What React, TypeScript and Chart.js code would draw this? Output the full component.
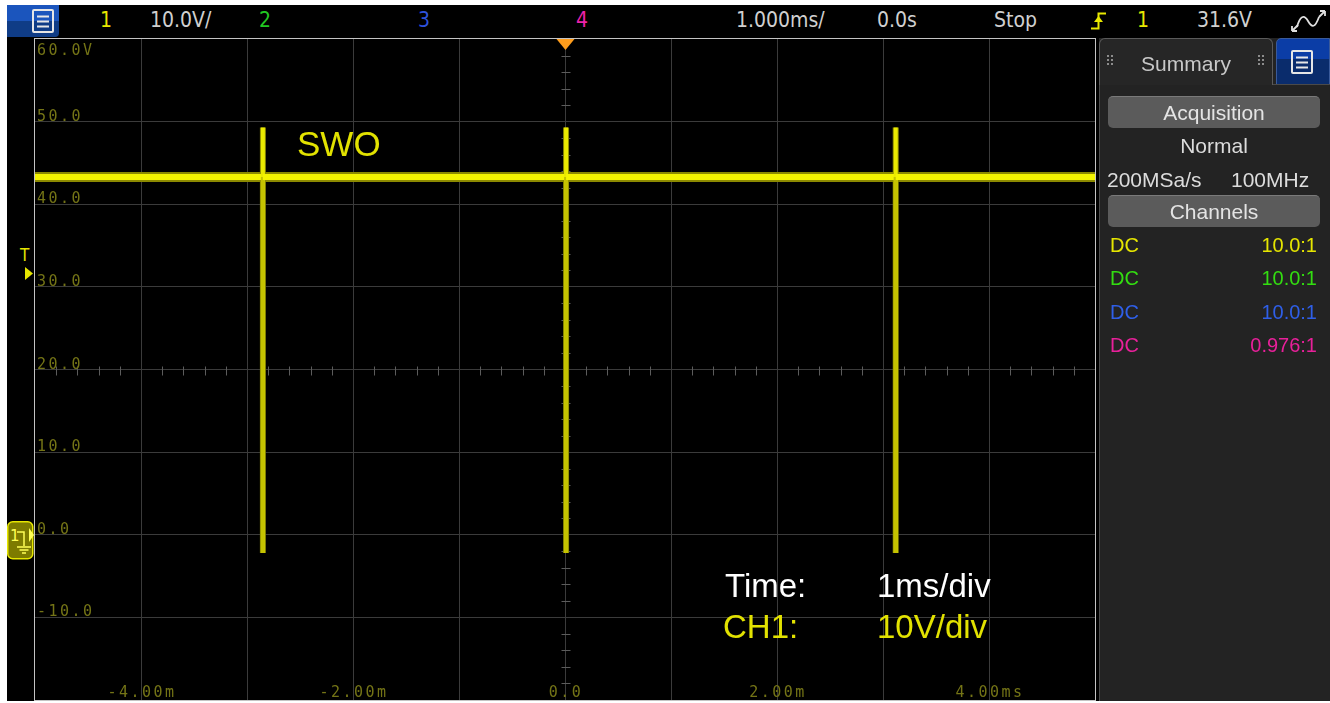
import React, { useEffect, useRef } from 'react';
import { Chart, registerables } from 'chart.js';

Chart.register(...registerables);

// ---------------- data ----------------
const timeRange = [-5, 5]; // ms, 1 ms/div
const voltRange = [-20, 60]; // V, 10 V/div
const timeLabelValues = [-4, -2, 0, 2, 4];
const timeLabels = ['-4.00m', '-2.00m', '0.0', '2.00m', '4.00ms'];
const voltLabelValues = [60, 50, 40, 30, 20, 10, 0, -10];
const voltLabels = ['60.0V', '50.0', '40.0', '30.0', '20.0', '10.0', '0.0', '-10.0'];
// SWO trace (CH1): idle high with three short glitches
const traceTimes = [-5, -2.85, -2.85, -2.85, -2.85, 0.01, 0.01, 0.01, 0.01, 3.12, 3.12, 3.12, 3.12, 5];
const traceVolts = [43.3, 43.3, 49.3, -2.2, 43.3, 43.3, 49.3, -2.2, 43.3, 43.3, 49.3, -2.2, 43.3, 43.3];
const channelCouplings = ['DC', 'DC', 'DC', 'DC'];
const probeRatios = ['10.0:1', '10.0:1', '10.0:1', '0.976:1'];
const channelColors = ['#e6e600', '#33dd11', '#2f5fe8', '#e8209a'];

const MINOR_T = 0.2;
const MINOR_V = 2;

const SANS = '"Liberation Sans", Arial, sans-serif';
const COND = '"DejaVu Sans Condensed", "DejaVu Sans", sans-serif';

const isVertical = (c: any) => c.p0.parsed.x === c.p1.parsed.x;

const scopePlugin = {
  id: 'scope',
  beforeDatasetsDraw(chart: any) {
    const { ctx, chartArea: a, scales } = chart;
    const x = scales.x;
    const y = scales.y;
    ctx.save();
    // minor ticks on centre lines
    ctx.strokeStyle = '#5c5c5c';
    ctx.lineWidth = 1;
    ctx.beginPath();
    const cx = Math.round(x.getPixelForValue(0)) + 0.5;
    const cy = Math.round(y.getPixelForValue(20)) + 0.5;
    for (let i = Math.ceil(voltRange[0] / MINOR_V); i <= voltRange[1] / MINOR_V; i++) {
      const v = i * MINOR_V;
      if (v % 10 === 0) continue;
      const py = Math.round(y.getPixelForValue(v)) + 0.5;
      ctx.moveTo(cx - 4, py);
      ctx.lineTo(cx + 5, py);
    }
    for (let i = Math.ceil(timeRange[0] / MINOR_T); i <= timeRange[1] / MINOR_T; i++) {
      if (i % 5 === 0) continue;
      const px = Math.round(x.getPixelForValue(i * MINOR_T)) + 0.5;
      ctx.moveTo(px, cy - 4);
      ctx.lineTo(px, cy + 5);
    }
    ctx.stroke();

    // axis labels (inside the graticule)
    ctx.font = '15px "DejaVu Sans Mono", monospace';
    (ctx as any).letterSpacing = '2.5px';
    ctx.fillStyle = '#747416';
    ctx.textAlign = 'left';
    ctx.textBaseline = 'alphabetic';
    voltLabelValues.forEach((v, i) => {
      const py = y.getPixelForValue(v);
      const base = v === voltRange[1] ? py + 16 : py - 1;
      ctx.fillText(voltLabels[i], a.left + 2, base);
    });
    ctx.textAlign = 'center';
    timeLabelValues.forEach((v, i) => {
      ctx.fillText(timeLabels[i], x.getPixelForValue(v) + 1, a.bottom - 3);
    });
    (ctx as any).letterSpacing = '0px';
    ctx.restore();
  },
  afterDatasetsDraw(chart: any) {
    const { ctx, chartArea: a, scales } = chart;
    const x = scales.x;
    ctx.save();
    // frame
    ctx.strokeStyle = '#c4c4c4';
    ctx.lineWidth = 1;
    ctx.strokeRect(a.left - 0.5, a.top - 0.5, a.right - a.left + 1, a.bottom - a.top + 1);
    // trigger position marker
    const cx = x.getPixelForValue(0) + 0.5;
    ctx.fillStyle = '#ff9d1c';
    ctx.beginPath();
    ctx.moveTo(cx - 9, a.top);
    ctx.lineTo(cx + 9, a.top);
    ctx.lineTo(cx, a.top + 11);
    ctx.closePath();
    ctx.fill();
    // annotations (canvas origin is page (34,38))
    ctx.textAlign = 'left';
    ctx.textBaseline = 'alphabetic';
    ctx.font = `35px ${SANS}`;
    ctx.fillStyle = '#e2e200';
    ctx.fillText('SWO', 263, 118);
    ctx.font = `33px ${SANS}`;
    ctx.fillStyle = '#ffffff';
    ctx.fillText('Time:', 691, 559);
    ctx.fillText('1ms/div', 843, 559);
    ctx.fillStyle = '#e2e200';
    ctx.fillText('CH1:', 689, 600);
    ctx.fillText('10V/div', 843, 600);
    ctx.restore();
  },
};

function Txt(props: {
  x: number; base: number; size: number; color: string; text: string;
  align?: 'left' | 'right' | 'center'; family?: string;
}) {
  const { x, base, size, color, text, align = 'left', family = SANS } = props;
  const top = base - 0.846 * size;
  const style: any = {
    position: 'absolute', top, fontSize: size, lineHeight: `${size}px`, color,
    fontFamily: family, whiteSpace: 'nowrap',
  };
  if (family === COND) style.fontStretch = 'condensed';
  if (align === 'left') style.left = x;
  else if (align === 'right') style.right = 1330 - x;
  else { style.left = x - 200; style.width = 400; style.textAlign = 'center'; }
  return <div style={style}>{text}</div>;
}

function MenuIcon({ left, top }: { left: number; top: number }) {
  return (
    <svg style={{ position: 'absolute', left, top }} width={22} height={24}>
      <rect x={1} y={1} width={20} height={22} fill="none" stroke="#e6e6e6" strokeWidth={2} rx={1} />
      <line x1={5} x2={17} y1={7.5} y2={7.5} stroke="#e6e6e6" strokeWidth={2} />
      <line x1={5} x2={17} y1={12.5} y2={12.5} stroke="#e6e6e6" strokeWidth={2} />
      <line x1={5} x2={17} y1={17.5} y2={17.5} stroke="#e6e6e6" strokeWidth={2} />
    </svg>
  );
}

function Grip({ left, top }: { left: number; top: number }) {
  const dots = [];
  for (let r = 0; r < 3; r++) for (let c = 0; c < 2; c++)
    dots.push(<rect key={`${r}${c}`} x={c * 4} y={r * 4} width={2} height={2} fill="#8c8c8c" />);
  return <svg style={{ position: 'absolute', left, top }} width={8} height={12}>{dots}</svg>;
}

const btnStyle = (top: number): any => ({
  position: 'absolute', left: 1108, top, width: 212, height: 32, borderRadius: 5,
  background: '#5b5b5b', borderTop: '1px solid #7a7a7a', boxSizing: 'border-box',
});

export default function App() {
  const ref = useRef<HTMLCanvasElement>(null);
  useEffect(() => {
    const points = traceTimes.map((t, i) => ({ x: t, y: traceVolts[i] }));
    const chart = new Chart(ref.current as HTMLCanvasElement, {
      type: 'line',
      data: {
        datasets: [
          {
            data: points,
            borderColor: '#f2f200',
            borderWidth: 6,
            pointRadius: 0,
            tension: 0,
            order: 0,
            segment: {
              borderColor: (c: any) => {
                if (!isVertical(c)) return '#f4f400';
                if (c.p1.parsed.y > c.p0.parsed.y && c.p0.parsed.y < 0) return '#c4c200';
                return '#eaea00';
              },
              borderWidth: (c: any) => (isVertical(c) ? 4 : 6),
            },
          } as any,
          {
            data: points,
            borderColor: '#8c8a00',
            borderWidth: 10,
            pointRadius: 0,
            tension: 0,
            order: 1,
            segment: {
              borderWidth: (c: any) => (isVertical(c) ? 6 : 10),
              borderColor: (c: any) => (isVertical(c) ? '#8a8800' : '#8c8a00'),
            },
          } as any,
        ],
      },
      options: {
        animation: false,
        responsive: false,
        devicePixelRatio: 1,
        layout: { padding: { left: 1, right: 1, top: 1, bottom: 1 } },
        plugins: { legend: { display: false }, tooltip: { enabled: false } },
        events: [],
        scales: {
          x: {
            type: 'linear', min: timeRange[0], max: timeRange[1],
            ticks: { display: false, stepSize: 1 },
            border: { display: false },
            grid: {
              drawTicks: false,
              color: (c: any) => (c.tick && (c.tick.value === timeRange[0] || c.tick.value === timeRange[1]) ? 'rgba(0,0,0,0)' : '#3b3b3b'),
            },
          },
          y: {
            type: 'linear', min: voltRange[0], max: voltRange[1],
            ticks: { display: false, stepSize: 10 },
            border: { display: false },
            grid: {
              drawTicks: false,
              color: (c: any) => (c.tick && (c.tick.value === voltRange[0] || c.tick.value === voltRange[1]) ? 'rgba(0,0,0,0)' : '#3b3b3b'),
            },
          },
        },
      } as any,
      plugins: [scopePlugin],
    });
    return () => chart.destroy();
  }, []);

  return (
    <div style={{ position: 'absolute', left: 0, top: 0, width: 1330, height: 703, background: '#ffffff', overflow: 'hidden' }}>
      <div style={{ position: 'absolute', left: 7, top: 5, width: 1323, height: 696, background: '#000' }} />

      {/* top bar */}
      <div style={{ position: 'absolute', left: 7, top: 5, width: 52, height: 32, borderBottomRightRadius: 4,
        background: 'linear-gradient(#1b55bd 0%, #1b55bd 50%, #0f3c86 50%, #0f3c86 100%)' }} />
      <MenuIcon left={32} top={9} />
      <Txt x={100} base={28} size={21} color="#e8e800" text="1" family={COND} />
      <Txt x={150} base={28} size={21} color="#d0d0d0" text="10.0V/" family={COND} />
      <Txt x={259} base={28} size={21} color="#22c822" text="2" family={COND} />
      <Txt x={418} base={28} size={21} color="#2e52dc" text="3" family={COND} />
      <Txt x={576} base={28} size={21} color="#ee22aa" text="4" family={COND} />
      <Txt x={736} base={28} size={21} color="#d0d0d0" text="1.000ms/" family={COND} />
      <Txt x={877} base={28} size={21} color="#d0d0d0" text="0.0s" family={COND} />
      <Txt x={994} base={28} size={21} color="#d0d0d0" text="Stop" family={COND} />
      <svg style={{ position: 'absolute', left: 1090, top: 11 }} width={18} height={20}>
        <path d="M1 17.5 H8.5 V2.5 H16" fill="none" stroke="#e8e800" strokeWidth={2} />
        <polygon points="4,11 8.5,5 13,11" fill="#e8e800" />
      </svg>
      <Txt x={1137} base={28} size={21} color="#e8e800" text="1" family={COND} />
      <Txt x={1197} base={28} size={21} color="#d0d0d0" text="31.6V" family={COND} />
      <svg style={{ position: 'absolute', left: 1289, top: 8 }} width={40} height={26}>
        <path d="M8 19 C 11 8, 15 6, 19 13 S 26 20, 30 9" fill="none" stroke="#e0e0e0" strokeWidth={1.8} />
        <path d="M3 23 L9 17 M3 23 H8 M3 23 V18" fill="none" stroke="#e0e0e0" strokeWidth={1.8} />
        <path d="M36 3 L30 9 M36 3 H31 M36 3 V8" fill="none" stroke="#e0e0e0" strokeWidth={1.8} />
      </svg>

      {/* left strip markers */}
      <Txt x={20} base={261} size={17} color="#e6e600" text="T" family={COND} />
      <svg style={{ position: 'absolute', left: 25, top: 267 }} width={9} height={14}>
        <polygon points="0,0 8,6.5 0,13" fill="#e6e600" />
      </svg>
      <svg style={{ position: 'absolute', left: 7, top: 521 }} width={28} height={40}>
        <rect x={0.75} y={0.75} width={25} height={37} rx={5} fill="#7d7b00" stroke="#e6e600" strokeWidth={1.5} />
        <text x={3} y={20} fontSize={15} fill="#ffff55" fontFamily="DejaVu Sans">1</text>
        <path d="M10 11 H17 V25" fill="none" stroke="#ffff55" strokeWidth={1.5} />
        <path d="M10 26 H24 M12.5 29 H21.5 M15 32 H19" fill="none" stroke="#ffff55" strokeWidth={1.5} />
        <polygon points="22,7 27,14 22,21" fill="#ffff55" />
      </svg>

      <canvas ref={ref} width={1062} height={663}
        style={{ position: 'absolute', left: 34, top: 38, width: 1062, height: 663 }} />

      {/* right panel */}
      <div style={{ position: 'absolute', left: 1099, top: 38, width: 231, height: 663, background: '#232323' }} />
      <div style={{ position: 'absolute', left: 1099, top: 84, width: 1, height: 617, background: '#4a4a4a' }} />
      <div style={{ position: 'absolute', left: 1099, top: 38, width: 174, height: 47, background: '#262626',
        border: '1px solid #5a5a5a', borderBottom: 'none', borderRadius: '6px 6px 0 0', boxSizing: 'border-box' }} />
      <Grip left={1107} top={55} />
      <Grip left={1258} top={55} />
      <Txt x={1186} base={71} size={21} color="#c8c8c8" text="Summary" align="center" />
      <div style={{ position: 'absolute', left: 1276, top: 38, width: 54, height: 47, borderTopLeftRadius: 5,
        background: 'linear-gradient(#0b3da6 0%, #0b3da6 45%, #0a2c6c 45%, #0a2c6c 100%)', border: '1px solid #3a5a9a', boxSizing: 'border-box' }} />
      <MenuIcon left={1291} top={50} />
      <div style={{ position: 'absolute', left: 1273, top: 84, width: 57, height: 1, background: '#4a4a4a' }} />

      <div style={btnStyle(96)} />
      <Txt x={1214} base={120} size={21} color="#e4e4e4" text="Acquisition" align="center" />
      <Txt x={1214} base={153} size={21} color="#dcdcdc" text="Normal" align="center" />
      <Txt x={1107} base={187} size={21} color="#dcdcdc" text="200MSa/s" />
      <Txt x={1231} base={187} size={21} color="#dcdcdc" text="100MHz" />
      <div style={btnStyle(195)} />
      <Txt x={1214} base={219} size={21} color="#e4e4e4" text="Channels" align="center" />
      {channelCouplings.map((c, i) => (
        <React.Fragment key={i}>
          <Txt x={1110} base={252 + i * 33.4} size={20} color={channelColors[i]} text={c} />
          <Txt x={1317} base={252 + i * 33.4} size={20} color={channelColors[i]} text={probeRatios[i]} align="right" />
        </React.Fragment>
      ))}
    </div>
  );
}
